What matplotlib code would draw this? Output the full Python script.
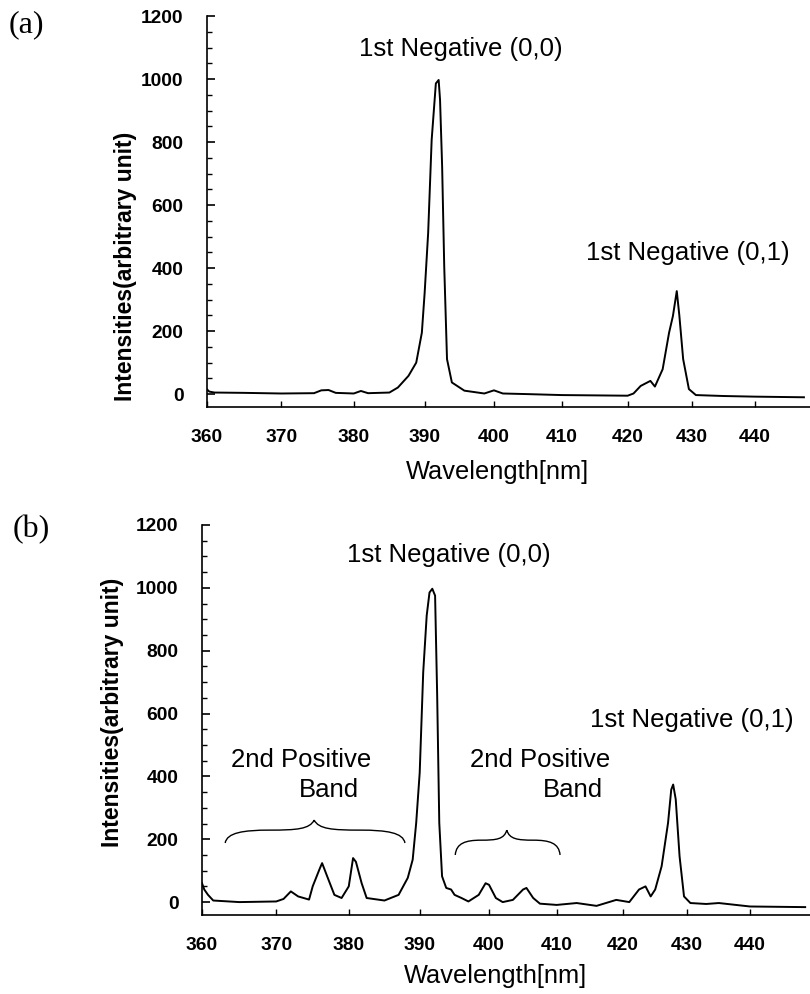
import numpy as np
import matplotlib.pyplot as plt
from matplotlib.path import Path
from matplotlib.patches import PathPatch
from matplotlib.ticker import MultipleLocator

# ---------------------------
# Spectrum (a)
# ---------------------------
wl_a = [360, 360.3, 361, 365, 370, 374.5, 375.5, 376.5, 377.5, 380,
        381, 382, 385, 386.2, 387.7, 388.8, 389.6, 390.0, 390.5, 391.0,
        391.6, 392.0, 392.2, 392.5, 392.8, 393.2, 393.9, 395.7, 398.6, 400.0,
        401.3, 405, 410, 415, 420, 420.9, 422.0, 423.5, 424.2, 425.4,
        426.4, 427.0, 427.6, 428.0, 428.6, 429.5, 430.6, 435, 440, 448]
int_a = [15, 8, 5, 4, 2, 3, 12, 13, 4, 2,
         10, 3, 5, 21, 58, 100, 195, 322, 512, 807,
         986, 997, 934, 723, 406, 111, 37, 11, 2, 12,
         2, 0, -3, -4, -5, 2, 26, 42, 24, 79,
         195, 248, 327, 250, 111, 16, -3, -6, -8, -10]

# ---------------------------
# Spectrum (b)
# ---------------------------
wl_b = [360, 360.3, 360.8, 361.5, 365, 370, 371, 372, 373, 374.5,
        375, 376, 376.3, 377, 378, 379, 380, 380.6, 381, 381.8,
        382.5, 385, 387, 388.3, 389, 389.5, 390, 390.5, 391, 391.4,
        391.8, 392.2, 392.5, 392.8, 393.2, 393.8, 394.5, 395, 396, 397,
        398.5, 399.5, 400, 401, 402, 403.5, 405, 405.5, 406.5, 407.5,
        410, 413, 416, 419, 421, 422.5, 423.5, 424.3, 425, 426,
        427, 427.5, 427.8, 428.2, 428.8, 429.5, 430.5, 433, 435, 440,
        449]
int_b = [60, 40, 23, 5, 0, 2, 10, 34, 18, 8,
         50, 108, 124, 82, 23, 13, 50, 140, 128, 60,
         13, 5, 23, 77, 135, 252, 412, 731, 912, 985,
         997, 975, 656, 252, 82, 45, 40, 23, 13, 2,
         23, 60, 55, 13, 0, 7, 40, 45, 13, -5,
         -9, -3, -12, 7, 0, 40, 50, 18, 40, 114,
         252, 358, 374, 327, 146, 18, -3, -6, -3, -14,
         -16]

x_ticks = [360, 370, 380, 390, 400, 410, 420, 430, 440]
y_ticks = [0, 200, 400, 600, 800, 1000, 1200]

# annotation texts: (text, x, y)
notes_a = [("1st Negative (0,0)", 395.2, 1095),
           ("1st Negative (0,1)", 429.3, 449)]
notes_b = [("1st Negative (0,0)", 394.2, 1104),
           ("1st Negative (0,1)", 430.7, 579),
           ("2nd Positive", 373.4, 452), ("Band", 377.2, 356),
           ("2nd Positive", 407.5, 452), ("Band", 412.4, 356)]

# braces: (x start, x end, x tip, y ends, y plateau, y tip)
braces_b = [(363.1, 387.9, 375.2, 188, 229, 261),
            (395.1, 410.5, 402.6, 150, 197, 229)]

# the scanned axis is slightly compressed towards long wavelengths
B, C = 7.5, 0.008125


def fwd(x):
    t = np.asarray(x, dtype=float) - 360
    return B * t - C * t ** 2


def inv(y):
    y = np.asarray(y, dtype=float)
    d = np.clip(B ** 2 - 4 * C * y, 0, None)
    return 360 + (B - np.sqrt(d)) / (2 * C)


def draw_brace(ax, x0, x1, xt, ye, ym, yt):
    verts, codes = [], []
    for xs in (x0, x1):
        verts += [(xs, ye),
                  (xs + 0.02 * (xt - xs), ye + 0.8 * (ym - ye)),
                  (xs + 0.2 * (xt - xs), ym),
                  (xs + 0.5 * (xt - xs), ym),
                  (xt - 0.2 * (xt - xs), ym),
                  (xt - 0.05 * (xt - xs), ym + 0.1 * (yt - ym)),
                  (xt, yt)]
        codes += [Path.MOVETO] + [Path.CURVE4] * 6
    ax.add_patch(PathPatch(Path(verts, codes), fill=False, lw=1.0,
                           ec='black'))


def style_axes(ax, xmax):
    ax.set_xscale('function', functions=(fwd, inv))
    ax.set_xlim(360, xmax)
    ax.set_ylim(-41, 1200)
    ax.spines['top'].set_visible(False)
    ax.spines['right'].set_visible(False)
    ax.spines['left'].set_linewidth(1.2)
    ax.spines['bottom'].set_linewidth(1.2)
    ax.set_xticks(x_ticks)
    ax.set_xticklabels([str(v) for v in x_ticks])
    ax.xaxis.set_minor_locator(plt.NullLocator())
    ax.set_yticks(y_ticks)
    ax.yaxis.set_minor_locator(MultipleLocator(50))
    ax.tick_params(axis='y', which='major', direction='in', length=6,
                   width=1.2, pad=17, labelsize=13.8)
    ax.tick_params(axis='y', which='minor', direction='in', length=3.5,
                   width=1.0)
    ax.tick_params(axis='x', which='major', direction='in', length=4,
                   width=1.0, pad=16, labelsize=13.8)
    for lab in ax.get_xticklabels() + ax.get_yticklabels():
        lab.set_fontweight('bold')
        lab.set_family('Liberation Sans')
    ax.set_xlabel("Wavelength[nm]", fontsize=18.3, family='Liberation Sans')
    ax.set_ylabel("Intensities(arbitrary unit)", fontsize=16.5,
                  fontweight='bold', family='Liberation Sans')


fig = plt.figure(figsize=(8.1, 9.94), dpi=100)

ax_a = fig.add_axes([0.2556, 0.5905, 0.7444, 0.3934])
ax_a.plot(wl_a, int_a, color='black', lw=1.4)
style_axes(ax_a, 449)
ax_a.yaxis.set_label_coords(-0.116, 0.361)
ax_a.xaxis.set_label_coords(0.481, -0.136)
for txt, x, y in notes_a:
    ax_a.text(x, y, txt, ha='center', va='center', fontsize=18.5,
              family='Liberation Sans')

ax_b = fig.add_axes([0.2494, 0.0795, 0.7506, 0.3924])
ax_b.plot(wl_b, int_b, color='black', lw=1.4)
style_axes(ax_b, 449.8)
ax_b.yaxis.set_label_coords(-0.128, 0.52)
ax_b.xaxis.set_label_coords(0.483, -0.126)
for txt, x, y in notes_b:
    ax_b.text(x, y, txt, ha='center', va='center', fontsize=18.5,
              family='Liberation Sans')
for br in braces_b:
    draw_brace(ax_b, *br)

fig.text(26 / 810, 1 - 25 / 994, "(a)", family='Liberation Serif',
         fontsize=23, ha='center', va='center')
fig.text(31 / 810, 1 - 530 / 994, "(b)", family='Liberation Serif',
         fontsize=23, ha='center', va='center')

fig.savefig("out.png", dpi=100)
